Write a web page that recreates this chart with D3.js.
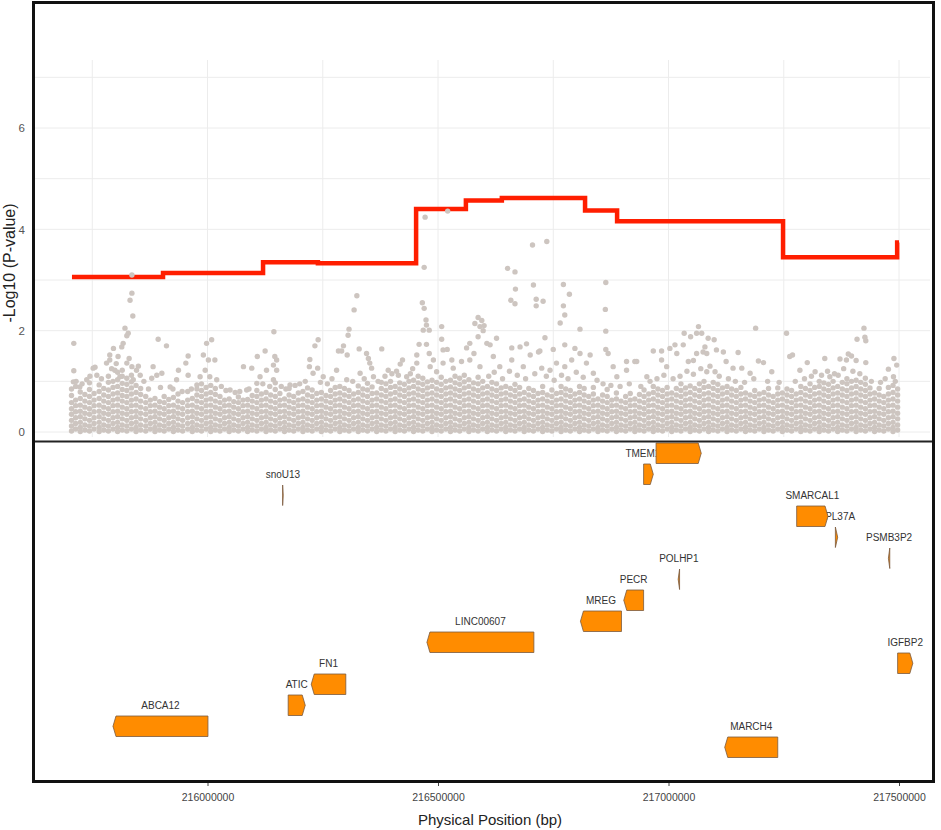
<!DOCTYPE html>
<html>
<head>
<meta charset="utf-8">
<script src="https://cdn.jsdelivr.net/npm/d3@7"></script>
<style>
  body { margin: 0; background: #fff; }
  text { font-family: "Liberation Sans", Arial, sans-serif; }
</style>
</head>
<body>
<svg id="plot" width="941" height="830"></svg>
<script>
// ---- data (positions in kb on chr2, values are -log10 p) ----

// red step line: start of each step and its value
const stepStart = [215706, 215903.5, 216120.5, 216239.5, 216452.5, 216560.5, 216638.5, 216819, 216888.5, 217248.5, 217496];
const stepValue = [3.06, 3.14, 3.35, 3.33, 4.40, 4.57, 4.62, 4.37, 4.16, 3.45, 3.74];
const stepEnd = 217500;

// dense low band of snps, columns [kb, [values]]
const bandA = [
  [215705,[.02,.12,.23,.35,.46,.58,.72,.85]],[215714,[.06,.17,.28,.4,.52,.63,.9]],
  [215724,[.01,.09,.19,.3,.41,.53,.66,.79]],[215734,[.04,.14,.26,.37,.49,.61,.74]],
  [215744,[.02,.12,.23,.35,.46,.58,.7,.84,.97]],[215754,[.06,.17,.28,.4,.52,.63,.76]],
  [215765,[.01,.09,.19,.3,.41,.53,.66,.8,.93]],[215775,[.04,.14,.26,.37,.49,.61,.73,.86]],
  [215785,[.02,.12,.23,.35,.46,.58,.7,.83,.98,1.1]],[215795,[.06,.17,.28,.4,.52,.63,.75,.88,1.0]],
  [215805,[.01,.09,.19,.3,.41,.53,.65,.77,.9,1.03,1.18]],[215815,[.04,.14,.26,.37,.49,.61,.72,.84,.96,1.1,1.22]],
  [215825,[.02,.12,.23,.35,.46,.58,.7,.82,.94,1.06]],[215835,[.06,.17,.28,.4,.52,.63,.75,.87,.99,1.12]],
  [215845,[.01,.09,.19,.3,.41,.53,.65,.78,.92]],[215855,[.04,.14,.26,.37,.49,.61,.74,.86]],
  [215866,[.02,.12,.23,.35,.46,.58,.7]],[215876,[.06,.17,.28,.4,.52,.63]],
  [215886,[.01,.09,.19,.3,.41,.53,.66]],[215896,[.04,.14,.26,.37,.49,.6]],
  [215906,[.02,.12,.23,.35,.46,.58,.7]],[215916,[.06,.17,.28,.4,.52,.64]],
  [215926,[.01,.09,.19,.3,.41,.53,.68]],[215936,[.04,.14,.26,.37,.49,.61,.75]],
  [215946,[.02,.12,.23,.35,.46,.58]],[215957,[.06,.17,.28,.4,.52,.63,.8]],
  [215967,[.01,.09,.19,.3,.41,.53,.66]],[215977,[.04,.14,.26,.37,.49,.61,.73,.85]],
  [215987,[.02,.12,.23,.35,.46,.58,.7,.82,.95]],[215997,[.06,.17,.28,.4,.52,.63,.75,.88]],
  [216007,[.01,.09,.19,.3,.41,.53,.65,.78,.92]],[216017,[.04,.14,.26,.37,.49,.61,.74,.86]],
  [216027,[.02,.12,.23,.35,.46,.58,.7]],[216037,[.06,.17,.28,.4,.52,.63]],
  [216047,[.01,.09,.19,.3,.41,.53,.65]]
];
const bandB = [
  [216057,[.04,.14,.26,.37,.49,.6]],[216067,[.02,.12,.23,.35,.46,.58,.69]],
  [216077,[.06,.17,.28,.4,.52,.63]],[216087,[.01,.09,.19,.3,.41,.53,.64]],
  [216097,[.04,.14,.26,.37,.49,.61,.72]],[216107,[.02,.12,.23,.35,.46,.58,.7,.82]],
  [216117,[.06,.17,.28,.4,.52,.63,.75]],[216127,[.01,.09,.19,.3,.41,.53,.65,.78]],
  [216137,[.04,.14,.26,.37,.49,.61,.73]],[216147,[.02,.12,.23,.35,.46,.58,.7,.84,.97]],
  [216157,[.06,.17,.28,.4,.52,.63,.76]],[216167,[.01,.09,.19,.3,.41,.53,.65]],
  [216177,[.04,.14,.26,.37,.49,.61,.73,.86]],[216187,[.02,.12,.23,.35,.46,.58,.7]],
  [216197,[.06,.17,.28,.4,.52,.63,.77]],[216207,[.01,.09,.19,.3,.41,.53,.65,.8]],
  [216217,[.04,.14,.26,.37,.49,.61,.73,.87]],[216227,[.02,.12,.23,.35,.46,.58,.7,.83]],
  [216237,[.06,.17,.28,.4,.52,.63,.76]],[216247,[.01,.09,.19,.3,.41,.53,.65,.78]],
  [216257,[.04,.14,.26,.37,.49,.61,.72]],[216267,[.02,.12,.23,.35,.46,.58,.7,.82]],
  [216277,[.06,.17,.28,.4,.52,.63,.75,.88]],[216287,[.01,.09,.19,.3,.41,.53,.65,.77,.9]],
  [216297,[.04,.14,.26,.37,.49,.61,.73,.86]],[216307,[.02,.12,.23,.35,.46,.58,.7,.82]],
  [216317,[.06,.17,.28,.4,.52,.63,.75]],[216327,[.01,.09,.19,.3,.41,.53,.65,.78,.91]],
  [216337,[.04,.14,.26,.37,.49,.61,.73,.85]],[216347,[.02,.12,.23,.35,.46,.58,.7,.83,.96]],
  [216357,[.06,.17,.28,.4,.52,.63,.76,.89]],[216367,[.01,.09,.19,.3,.41,.53,.65,.77]],
  [216377,[.04,.14,.26,.37,.49,.61,.73,.86,.98]],[216387,[.02,.12,.23,.35,.46,.58,.7,.82,.95]],
  [216397,[.06,.17,.28,.4,.52,.63,.75,.88,1.0]],[216407,[.01,.09,.19,.3,.41,.53,.65,.78,.9]],
  [216417,[.04,.14,.26,.37,.49,.61,.73,.85,.97]],[216427,[.02,.12,.23,.35,.46,.58,.7,.82,.94]],
  [216437,[.06,.17,.28,.4,.52,.63,.75,.87,1.0]],[216447,[.01,.09,.19,.3,.41,.53,.65,.77,.9,1.02]]
];
const bandC = [
  [216457,[.04,.14,.26,.37,.49,.61,.73,.85,.97,1.1]],[216467,[.02,.12,.23,.35,.46,.58,.7,.82,.94,1.06]],
  [216477,[.06,.17,.28,.4,.52,.63,.75,.87,.99]],[216487,[.01,.09,.19,.3,.41,.53,.65,.77,.9,1.02]],
  [216497,[.04,.14,.26,.37,.49,.61,.73,.85,.98]],[216507,[.02,.12,.23,.35,.46,.58,.7,.82,.94,1.08]],
  [216517,[.06,.17,.28,.4,.52,.63,.75,.87,1.0]],[216527,[.01,.09,.19,.3,.41,.53,.65,.77,.89,1.02]],
  [216537,[.04,.14,.26,.37,.49,.61,.73,.85,.97,1.1]],[216547,[.02,.12,.23,.35,.46,.58,.7,.82,.94,1.06]],
  [216557,[.06,.17,.28,.4,.52,.63,.75,.87,.99,1.12]],[216567,[.01,.09,.19,.3,.41,.53,.65,.77,.9,1.03]],
  [216577,[.04,.14,.26,.37,.49,.61,.73,.85,.97]],[216587,[.02,.12,.23,.35,.46,.58,.7,.82,.95,1.08]],
  [216597,[.06,.17,.28,.4,.52,.63,.75,.87,1.0]],[216607,[.01,.09,.19,.3,.41,.53,.65,.77,.9]],
  [216617,[.04,.14,.26,.37,.49,.61,.73,.85,.98]],[216627,[.02,.12,.23,.35,.46,.58,.7,.82,.95]],
  [216637,[.06,.17,.28,.4,.52,.63,.75,.87]],[216647,[.01,.09,.19,.3,.41,.53,.65,.77,.9]],
  [216657,[.04,.14,.26,.37,.49,.61,.73,.86]],[216667,[.02,.12,.23,.35,.46,.58,.7,.82,.94]],
  [216677,[.06,.17,.28,.4,.52,.63,.75,.88]],[216687,[.01,.09,.19,.3,.41,.53,.65,.78]],
  [216697,[.04,.14,.26,.37,.49,.61,.73,.86]],[216707,[.02,.12,.23,.35,.46,.58,.7,.82]],
  [216717,[.06,.17,.28,.4,.52,.63,.76]],[216727,[.01,.09,.19,.3,.41,.53,.65,.78,.9]],
  [216737,[.04,.14,.26,.37,.49,.61,.73]],[216747,[.02,.12,.23,.35,.46,.58,.7,.83]],
  [216757,[.06,.17,.28,.4,.52,.63,.76]],[216767,[.01,.09,.19,.3,.41,.53,.65,.78,.9]],
  [216777,[.04,.14,.26,.37,.49,.61,.73,.85]],[216787,[.02,.12,.23,.35,.46,.58,.7,.82]],
  [216797,[.06,.17,.28,.4,.52,.63,.75]],[216807,[.01,.09,.19,.3,.41,.53,.65,.78,.9]],
  [216817,[.04,.14,.26,.37,.49,.61,.73,.86]],[216827,[.02,.12,.23,.35,.46,.58,.7]],
  [216837,[.06,.17,.28,.4,.52,.63,.75,.88]],[216847,[.01,.09,.19,.3,.41,.53,.65]]
];
const bandD = [
  [216857,[.04,.14,.26,.37,.49,.61,.73]],[216867,[.02,.12,.23,.35,.46,.58,.7,.84]],
  [216877,[.06,.17,.28,.4,.52,.63]],[216887,[.01,.09,.19,.3,.41,.53,.65,.77]],
  [216897,[.04,.14,.26,.37,.49,.61]],[216907,[.02,.12,.23,.35,.46,.58,.7]],
  [216917,[.06,.17,.28,.4,.52,.63,.76]],[216927,[.01,.09,.19,.3,.41,.53,.65]],
  [216937,[.04,.14,.26,.37,.49,.61,.74]],[216947,[.02,.12,.23,.35,.46,.58,.7,.83]],
  [216957,[.06,.17,.28,.4,.52,.63,.75]],[216967,[.01,.09,.19,.3,.41,.53,.65,.78,.9]],
  [216977,[.04,.14,.26,.37,.49,.61,.73,.85]],[216987,[.02,.12,.23,.35,.46,.58,.7,.82]],
  [216997,[.06,.17,.28,.4,.52,.63,.75,.88]],[217007,[.01,.09,.19,.3,.41,.53,.65,.77]],
  [217017,[.04,.14,.26,.37,.49,.61,.73,.86]],[217027,[.02,.12,.23,.35,.46,.58,.7,.82,.95]],
  [217037,[.06,.17,.28,.4,.52,.63,.75,.87]],[217047,[.01,.09,.19,.3,.41,.53,.65,.78,.91]],
  [217057,[.04,.14,.26,.37,.49,.61,.73,.86]],[217067,[.02,.12,.23,.35,.46,.58,.7,.82,.95]],
  [217077,[.06,.17,.28,.4,.52,.63,.75,.88,1.0]],[217087,[.01,.09,.19,.3,.41,.53,.65,.77,.9]],
  [217097,[.04,.14,.26,.37,.49,.61,.73,.86,.98]],[217107,[.02,.12,.23,.35,.46,.58,.7,.82,.94]],
  [217117,[.06,.17,.28,.4,.52,.63,.75,.87]],[217127,[.01,.09,.19,.3,.41,.53,.65,.78,.9]],
  [217137,[.04,.14,.26,.37,.49,.61,.73,.85]],[217147,[.02,.12,.23,.35,.46,.58,.7,.82]],
  [217157,[.06,.17,.28,.4,.52,.63,.75,.88]],[217167,[.01,.09,.19,.3,.41,.53,.65,.77]],
  [217177,[.04,.14,.26,.37,.49,.61,.73]],[217187,[.02,.12,.23,.35,.46,.58,.7,.82]],
  [217197,[.06,.17,.28,.4,.52,.63,.75]],[217207,[.01,.09,.19,.3,.41,.53,.65,.78]],
  [217217,[.04,.14,.26,.37,.49,.61,.73,.86]],[217227,[.02,.12,.23,.35,.46,.58,.7]],
  [217237,[.06,.17,.28,.4,.52,.63,.75,.87]],[217247,[.01,.09,.19,.3,.41,.53,.65,.77]]
];
const bandE = [
  [217257,[.04,.14,.26,.37,.49,.61,.73,.85]],[217267,[.02,.12,.23,.35,.46,.58,.7,.82]],
  [217277,[.06,.17,.28,.4,.52,.63,.75]],[217287,[.01,.09,.19,.3,.41,.53,.65,.78,.9]],
  [217297,[.04,.14,.26,.37,.49,.61,.73,.86]],[217307,[.02,.12,.23,.35,.46,.58,.7,.82,.95]],
  [217317,[.06,.17,.28,.4,.52,.63,.75,.88]],[217327,[.01,.09,.19,.3,.41,.53,.65,.77,.9,1.0]],
  [217337,[.04,.14,.26,.37,.49,.61,.73,.85,.97]],[217347,[.02,.12,.23,.35,.46,.58,.7,.82,.94]],
  [217357,[.06,.17,.28,.4,.52,.63,.75,.87,1.0]],[217367,[.01,.09,.19,.3,.41,.53,.65,.77,.9]],
  [217377,[.04,.14,.26,.37,.49,.61,.73,.85,.98]],[217387,[.02,.12,.23,.35,.46,.58,.7,.82,.95,1.05]],
  [217397,[.06,.17,.28,.4,.52,.63,.75,.87,1.0]],[217407,[.01,.09,.19,.3,.41,.53,.65,.77,.9,1.02]],
  [217417,[.04,.14,.26,.37,.49,.61,.73,.85,.98]],[217427,[.02,.12,.23,.35,.46,.58,.7,.82,.94,1.06]],
  [217437,[.06,.17,.28,.4,.52,.63,.75,.87]],[217447,[.01,.09,.19,.3,.41,.53,.65,.77]],
  [217457,[.04,.14,.26,.37,.49,.61,.73,.86]],[217467,[.02,.12,.23,.35,.46,.58,.7]],
  [217477,[.06,.17,.28,.4,.52,.63,.75,.88]],[217487,[.01,.09,.19,.3,.41,.53,.65,.78,.92]],
  [217497,[.04,.14,.26,.37,.49,.61,.73,.85]]
];

// loose snps just above the band, [kb, value]
const bandTop = [
  [215715,1.0],[215728,.95],[215745,1.1],[215770,1.05],[215792,1.25],[215802,1.35],[215830,1.45],[215850,1.3],
  [215862,1.0],[215872,.85],[215898,.88],[215925,.85],[215945,.8],[215965,.85],[216030,.9],[216040,.82],
  [216060,.78],[216090,.85],[216120,.95],[216135,.9],[216160,.9],[216170,.85],[216190,.92],[216200,.95],
  [216212,1.0],[216245,.98],[216260,.95],[216270,1.05],[216315,1.0],[216340,1.05],[216370,1.0],[216385,1.1],
  [216400,1.15],[216410,1.2],[216440,1.15],[216445,1.25],
  [216610,1.1],[216622,1.18],[216640,1.05],[216655,1.2],[216672,1.12],[216690,1.05],[216710,1.15],[216735,1.1],
  [216752,1.02],[216768,1.12],[216782,1.05],[216800,1.18],[216815,1.08],[216845,1.02],[216858,.95],[216875,.92],
  [216895,.9],[216915,.95],[216940,.9],[216960,1.0],[216975,1.05],[216990,1.12],[217010,1.05],[217025,1.1],
  [217040,1.2],[217070,1.25],[217090,1.3],[217110,1.1],[217130,1.05],[217145,1.0],[217165,.98],[217185,1.05],
  [217215,1.0],[217240,.98],[217275,1.0],[217295,1.05],[217310,1.1],[217345,1.2],[217360,1.15],[217380,1.25],
  [217400,1.2],[217415,1.15],[217440,1.0],[217460,.98],[217470,1.05],[217492,1.0]
];

// scattered snps further up, [kb, value]
const peaksLeft = [
  [215710,1.75],[215710,1.21],[215709,.99],[215723,.89],[215738,1.03],[215752,1.26],[215760,1.12],[215756,1.28],
  [215781,1.36],[215788,1.42],[215788,1.52],[215796,1.65],[215799,1.22],[215806,1.49],[215810,1.09],[215814,1.68],
  [215817,1.75],[215821,2.05],[215825,1.9],[215825,1.36],[215828,1.95],[215832,2.6],[215836,2.74],[215838,2.29],
  [215836,1.29],[215839,1.03],[215846,1.22],[215854,1.12],[215879,1.06],[215882,1.29],[215890,1.12],[215893,1.83],
  [215901,1.16],[215911,1.7],[215919,.89],[215933,1.03],[215937,1.22],[215953,1.36],[215958,1.5],[215958,1.12],
  [215977,.93],[215984,1.09],[215991,1.52],[215995,1.22],[215998,1.75],[216002,1.42],[216005,1.09],[216009,1.82],
  [216016,1.42],[216020,1.03],[216049,.83],[216070,.8],[216078,1.29],[216085,.83],[216096,1.26],[216107,.96],
  [216108,1.49],[216114,1.09],[216125,1.6],[216128,1.22],[216143,1.32],[216143,1.03],[216144,1.98],[216146,1.49],
  [216150,1.42],[216150,1.22],[216179,.93],[216221,1.29],[216222,1.43],[216229,1.16],[216233,1.7],[216239,1.26],
  [216240,1.82],[216251,1.09],[216280,1.22],[216284,1.6],[216291,1.6],[216295,1.7],[216302,1.03],[216303,1.52],
  [216305,1.91],[216307,2.03],[216318,2.41],[216324,2.69],[216329,1.64],[216331,1.16],[216345,1.55],[216349,1.45],
  [216352,1.36],[216356,1.26],[216360,1.09],[216378,1.64],[216392,1.22],[216414,1.12],[216418,1.34],[216423,1.42],
  [216432,1.09]
];
const peaksRight = [
  [216454,1.52],[216454,1.36],[216459,1.73],[216466,2.55],[216468,2.01],[216470,2.44],[216470,3.25],[216472,4.24],
  [216474,2.21],[216475,2.11],[216475,1.73],[216481,2.01],[216481,1.55],[216483,1.29],[216490,1.42],[216497,1.19],
  [216508,2.08],[216508,1.83],[216511,1.62],[216511,1.36],[216520,1.63],[216521,4.36],[216530,1.42],[216533,1.26],
  [216551,1.39],[216562,1.66],[216569,1.75],[216569,1.42],[216578,1.55],[216580,2.14],[216587,2.26],[216587,1.88],
  [216591,2.08],[216591,1.29],[216595,2.2],[216598,2.0],[216600,2.1],[216606,1.75],[216613,1.72],[216620,1.49],
  [216627,1.85],[216634,1.29],[216651,3.23],[216658,2.6],[216660,1.66],[216660,1.42],[216667,3.16],[216667,2.53],
  [216668,2.82],[216678,1.68],[216685,1.29],[216692,1.74],[216700,1.52],[216705,3.69],[216707,2.9],[216713,2.62],
  [216713,2.49],[216718,1.58],[216721,1.6],[216725,1.26],[216728,2.58],[216732,1.86],[216736,3.76],[216743,1.22],
  [216750,1.63],[216757,1.36],[216765,2.15],[216772,2.91],[216772,2.49],[216775,2.31],[216775,1.72],[216775,1.29],
  [216785,2.72],[216790,1.42],[216797,1.65],[216808,2.03],[216808,1.55],[216822,1.36],[216830,1.52],[216837,1.16],
  [216863,2.42],[216864,2.95],[216864,1.99],[216864,1.63],[216869,1.55],[216880,1.29],[216888,1.09],[216909,1.39],
  [216909,1.22],[216927,1.39],[216931,1.39],[216953,1.09],[216967,1.6],[216985,1.6],[216985,1.42],[216996,1.29],
  [217003,1.65],[217014,1.72],[217018,1.55],[217032,1.72],[217034,1.95],[217043,1.39],[217048,1.88],[217054,1.41],
  [217054,1.14],[217061,1.95],[217061,1.55],[217065,2.08],[217072,1.95],[217075,1.58],[217079,1.68],[217083,1.55],
  [217083,1.19],[217086,1.85],[217099,1.82],[217101,1.19],[217104,1.62],[217119,1.58],[217125,1.39],[217140,1.26],
  [217151,1.57],[217159,1.26],[217177,1.16],[217189,2.05],[217195,1.4],[217206,1.37],[217224,1.19],[217256,1.95],
  [217263,1.49],[217269,1.52],[217285,1.22],[217301,1.37],[217318,1.19],[217332,1.12],[217339,1.45],[217350,1.09],
  [217368,1.12],[217372,1.44],[217386,1.42],[217390,1.54],[217397,1.5],[217407,1.41],[217409,1.83],[217424,2.05],
  [217426,1.87],[217428,1.8],[217428,1.37],[217477,1.24],[217488,1.09],[217489,1.45],[217495,1.32],
  [215836,3.1]
];

// genes
const geneNames  = ["XRCC5","TMEM169","snoU13","SMARCAL1","RPL37A","PSMB3P2","POLHP1","PECR","MREG","LINC00607","IGFBP2","FN1","ATIC","ABCA12","MARCH4"];
const geneStart  = [216973, 216946, 216163, 217278, 217362, 217477, 217021, 216903, 216809, 216476, 217497, 216225, 216175, 215795, 217122];
const geneEnd    = [217071, 216967, 216164.2, 217346, 217367, 217480, 217024, 216946, 216898, 216708, 217530, 216300, 216212, 216001, 217237];
const geneStrand = ["+","+","+","+","+","-","-","-","-","-","+","-","+","-","-"];
const geneRow    = [0, 1, 2, 3, 4, 5, 6, 7, 8, 9, 10, 11, 12, 13, 14];

const xTicks = [216000000, 216500000, 217000000, 217500000];
const yTicks = [0, 2, 4, 6];

// ---- drawing ----
const svg = d3.select("#plot");

const x = d3.scaleLinear().domain([216000000, 217500000]).range([207.5, 899]);
const y = d3.scaleLinear().domain([0, 6]).range([432, 128]);
const rowY = d3.scaleLinear().domain([0, 1]).range([443, 464]);

// grid
const grid = svg.append("g");
grid.selectAll("line.h")
  .data(d3.range(0, 8))
  .join("line")
    .attr("x1", 35).attr("x2", 930)
    .attr("y1", d => y(d)).attr("y2", d => y(d))
    .attr("stroke", "#ececec").attr("stroke-width", 1);
grid.selectAll("line.v")
  .data(d3.range(215750000, 217500001, 250000))
  .join("line")
    .attr("x1", d => x(d)).attr("x2", d => x(d))
    .attr("y1", 60).attr("y2", 437)
    .attr("stroke", "#ececec").attr("stroke-width", 1);

// red step line
const steps = stepStart.map((s, i) => [s * 1000, stepValue[i]]);
steps.push([stepEnd * 1000, stepValue[stepValue.length - 1]]);
svg.append("path")
  .datum(steps)
  .attr("fill", "none")
  .attr("stroke", "#ff1e00")
  .attr("stroke-width", 4.5)
  .attr("d", d3.line().x(d => x(d[0])).y(d => y(d[1])).curve(d3.curveStepAfter));

// snp points
const snps = [];
[bandA, bandB, bandC, bandD, bandE].forEach(band => {
  band.forEach(([kb, vals]) => vals.forEach(v => snps.push([kb, v])));
});
bandTop.concat(peaksLeft, peaksRight).forEach(p => snps.push(p));

svg.append("g")
  .selectAll("circle")
  .data(snps)
  .join("circle")
    .attr("cx", d => x(d[0] * 1000))
    .attr("cy", d => y(d[1]))
    .attr("r", 2.7)
    .attr("fill", "#cdc5c0");

// y axis
svg.append("g")
  .attr("transform", "translate(33,0)")
  .call(d3.axisLeft(y).tickValues(yTicks).tickFormat(d3.format("d")).tickSize(0).tickPadding(8))
  .call(g => g.select(".domain").remove())
  .call(g => g.selectAll("text").attr("fill", "#555").attr("font-size", 11.5)
    .attr("font-family", "Liberation Sans, Arial, sans-serif"));

svg.append("text")
  .attr("transform", "translate(15,263) rotate(-90)")
  .attr("text-anchor", "middle")
  .attr("font-size", 16)
  .attr("fill", "#222")
  .text("-Log10 (P-value)");

// gene panel
svg.append("clipPath").attr("id", "geneClip")
  .append("rect").attr("x", 34).attr("y", 442).attr("width", 899).attr("height", 339);

const genes = geneNames.map((name, i) => ({
  name, start: geneStart[i] * 1000, end: geneEnd[i] * 1000, strand: geneStrand[i], row: geneRow[i]
}));

function geneShape(g) {
  const x0 = x(g.start), x1 = x(g.end);
  const top = rowY(g.row), bot = rowY(g.row + 1) - 0.5, mid = (top + bot) / 2;
  const a = Math.min(3, x1 - x0);
  if (g.strand === "+") {
    return `M${x0},${top}L${x1 - a},${top}L${x1},${mid}L${x1 - a},${bot}L${x0},${bot}Z`;
  }
  return `M${x1},${top}L${x0 + a},${top}L${x0},${mid}L${x0 + a},${bot}L${x1},${bot}Z`;
}

const genePanel = svg.append("g").attr("clip-path", "url(#geneClip)");

// labels first, arrows on top of them
genePanel.append("g").selectAll("text")
  .data(genes)
  .join("text")
    .attr("x", d => (x(d.start) + x(d.end)) / 2)
    .attr("y", d => rowY(d.row) - 10.5)
    .attr("dy", "0.35em")
    .attr("text-anchor", "middle")
    .attr("font-size", 10)
    .attr("fill", "#333")
    .text(d => d.name);

genePanel.append("g").selectAll("path")
  .data(genes)
  .join("path")
    .attr("d", geneShape)
    .attr("fill", "#ff8c00")
    .attr("stroke", "#7a5a40")
    .attr("stroke-width", 0.8);

// x axis
svg.append("g")
  .attr("transform", "translate(0,782)")
  .call(d3.axisBottom(x).tickValues(xTicks).tickFormat(d3.format("d")).tickSize(4).tickPadding(8))
  .call(g => g.select(".domain").remove())
  .call(g => g.selectAll("line").attr("stroke", "#444"))
  .call(g => g.selectAll("text").attr("fill", "#444").attr("font-size", 10.5)
    .attr("font-family", "Liberation Sans, Arial, sans-serif"));

svg.append("text")
  .attr("x", 490)
  .attr("y", 825)
  .attr("text-anchor", "middle")
  .attr("font-size", 15)
  .attr("fill", "#222")
  .text("Physical Position (bp)");

// frames
svg.append("line")
  .attr("x1", 33).attr("x2", 934).attr("y1", 441.5).attr("y2", 441.5)
  .attr("stroke", "#222").attr("stroke-width", 2);
svg.append("rect")
  .attr("x", 33.5).attr("y", 2.5).attr("width", 900).attr("height", 779)
  .attr("fill", "none").attr("stroke", "#111").attr("stroke-width", 3);
</script>
</body>
</html>
